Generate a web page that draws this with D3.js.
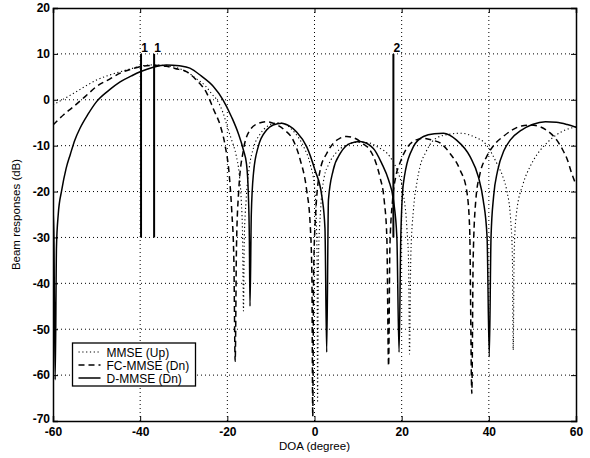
<!DOCTYPE html>
<html>
<head>
<meta charset="utf-8">
<script src="https://cdn.jsdelivr.net/npm/d3@7"></script>
<style>
  body { margin: 0; background: #fff; }
  text { font-family: "Liberation Sans", Arial, sans-serif; font-weight: bold; fill: #000; }
</style>
</head>
<body>
<div id="chart"></div>
<script>
// DOA (degree), beam response (dB) pairs
const mmseUp = [
  [-60, -1.1], [-57.5, 0.2], [-55.3, 1.4], [-52.5, 3], [-50, 4.3], [-47, 5.4], [-44.6, 6.1], [-42, 6.8],
  [-40, 7.3], [-37, 7.6], [-34, 7.4], [-31, 6.8], [-29, 5.9], [-27, 4.5], [-25, 3], [-23.5, 1.2],
  [-22.4, 0], [-21, -2.8], [-19.8, -6.5], [-19, -8.8], [-18, -12], [-17.3, -16], [-16.8, -22], [-16.5, -30],
  [-16.3, -46], [-16.1, -30], [-15.7, -22], [-15, -15], [-14, -10.5], [-12.5, -7.5], [-10.5, -5.6], [-8.5, -5],
  [-6.5, -5.5], [-4.5, -7.2], [-2.5, -10.2], [-1, -14], [0, -19], [0.4, -26], [0.6, -35], [0.7, -66],
  [0.9, -35], [1.4, -24], [2.2, -17], [3.3, -14], [5, -11.5], [7, -10], [9.5, -9.3], [12, -9.3],
  [14.5, -10.3], [17.3, -12.4], [19, -15.5], [20.3, -20], [21.2, -28], [21.6, -36], [21.8, -55.4], [22.1, -34],
  [22.7, -24], [23.5, -18], [24.2, -14.6], [25.5, -11.5], [27.3, -8.8], [30.3, -7.6], [33.5, -7.3], [36.5, -8],
  [39.5, -9.9], [41.8, -13.8], [43.3, -17], [44.1, -19.7], [45, -26], [45.4, -34], [45.6, -54.5], [45.8, -34],
  [46.3, -25], [47.9, -18.2], [49.5, -14.5], [51, -12], [52.5, -10.2], [55, -8], [57.5, -6.6], [60, -5.9]
];
const fcMmseDn = [
  [-60, -5.5], [-57.5, -3.2], [-55.3, -1.5], [-52.5, 0.8], [-50, 2.9], [-47, 4.5], [-44.6, 5.8], [-42, 6.7],
  [-40, 7.2], [-37, 7.5], [-34, 7.3], [-32, 6.8], [-29.3, 6.1], [-27, 4.2], [-24.7, 1.4], [-23.2, -2],
  [-21.5, -6], [-20.5, -10], [-19.6, -16], [-19, -24], [-18.5, -35], [-18.2, -57], [-17.9, -32], [-17.4, -20],
  [-16.3, -10.9], [-14.8, -6.6], [-13, -5.2], [-11, -4.8], [-9, -5.3], [-7, -6.5], [-4.9, -8.8], [-3.3, -13],
  [-1.8, -19.7], [-1, -27], [-0.6, -38], [-0.4, -69], [-0.2, -38], [0.2, -26], [1.3, -15.3], [2.8, -11.7],
  [4.3, -9.5], [5.8, -8.4], [7.4, -8], [9.5, -8.5], [11, -9.5], [12.7, -10.9], [14, -13.5], [15, -16.8],
  [16, -22], [16.6, -30], [17, -58], [17.3, -32], [17.9, -22], [18.7, -16.5], [19.6, -13.8], [21, -10.8],
  [23, -8.9], [25, -8.4], [27, -8.8], [29, -9.5], [31.1, -11.7], [33.4, -15.3], [34.9, -19.7], [35.6, -28],
  [36.1, -64], [36.4, -35], [37, -22], [38, -16], [39.5, -12.4], [41.5, -9.5], [43.3, -8], [45.5, -6.5],
  [47.5, -5.7], [49.5, -5.5], [51.5, -5.8], [53.5, -6.8], [55.6, -8.8], [57, -11], [58, -13], [59, -16], [60, -18.5]
];
const dMmseDn = [
  [-60, -24], [-59.8, -30], [-59.5, -61], [-59.2, -32], [-58.8, -25], [-58, -19.7], [-57, -15], [-56, -11.8],
  [-55, -8.8], [-53.8, -6.2], [-52, -3.2], [-50, -0.4], [-47, 2.2], [-44.6, 3.9], [-42, 5.2], [-40, 6.1],
  [-37, 7.1], [-34, 7.6], [-31, 7.4], [-28.6, 6.9], [-26, 5.2], [-23.2, 2.9], [-21, 0], [-19, -3.8],
  [-17.5, -7.3], [-16.3, -11], [-15.6, -14], [-15.2, -20], [-14.95, -30], [-14.8, -45], [-14.5, -25], [-14, -16],
  [-12.9, -10.2], [-11, -6.6], [-9.5, -5.5], [-7.5, -5.1], [-5.8, -5.7], [-4.1, -7], [-1.8, -10.2], [0.1, -15.3],
  [1.7, -21.1], [2.4, -28], [2.8, -55], [3.2, -21.8], [4.3, -15.3], [5.9, -11.7], [8.2, -9.5], [10.4, -9.1],
  [13.5, -10.6], [15.4, -13.8], [17, -17.5], [18.1, -21.8], [18.9, -30], [19.4, -55], [19.8, -30], [20.4, -18.2],
  [22.7, -10.2], [25, -8], [27.5, -7.4], [29.6, -7.3], [32.6, -8.8], [35.7, -12.4], [37.6, -16.8], [38.7, -21.8],
  [39.6, -30], [40.1, -56], [40.5, -30], [41.1, -21], [42, -15.5], [43.5, -11], [44.9, -8.8], [47.5, -6.6],
  [50, -5.4], [53, -4.8], [55.5, -4.9], [58, -5.4], [60, -6]
];

const seriesNames = ["MMSE (Up)", "FC-MMSE (Dn)", "D-MMSE (Dn)"];
const seriesData = [mmseUp, fcMmseDn, dMmseDn];
const seriesDash = ["1.2,2.6", "6,4", null];
const seriesWidth = [1.1, 1.5, 1.5];

// source markers
const markerDOA = [-39.8, -36.8, 18.1];
const markerLabel = ["1", "1", "2"];
const markerTop = 10, markerBottom = -30;

const xTicks = [-60, -40, -20, 0, 20, 40, 60];
const yTicks = [20, 10, 0, -10, -20, -30, -40, -50, -60, -70];

const W = 590, H = 458;
const margin = { top: 8, right: 14, bottom: 37, left: 53 };
const width = W - margin.left - margin.right,
      height = H - margin.top - margin.bottom;

const svg = d3.select("#chart").append("svg")
  .attr("width", W).attr("height", H);

const g = svg.append("g").attr("transform", `translate(${margin.left},${margin.top})`);

const x = d3.scaleLinear().domain([-60, 60]).range([0, width]);
const y = d3.scaleLinear().domain([-70, 20]).range([height, 0]);

// grid
g.append("g").selectAll("line").data(xTicks.slice(1, -1)).enter().append("line")
  .attr("x1", d => x(d)).attr("x2", d => x(d)).attr("y1", 0).attr("y2", height)
  .attr("stroke", "#000").attr("stroke-width", 1).attr("stroke-dasharray", "1,3");
g.append("g").selectAll("line").data(yTicks.slice(1, -1)).enter().append("line")
  .attr("y1", d => y(d)).attr("y2", d => y(d)).attr("x1", 0).attr("x2", width)
  .attr("stroke", "#000").attr("stroke-width", 1).attr("stroke-dasharray", "1,3");

// axes (ticks inside, box)
g.append("g").attr("transform", `translate(0,${height})`)
  .call(d3.axisBottom(x).tickValues(xTicks).tickSize(-5).tickPadding(6).tickFormat(d => d));
g.append("g")
  .call(d3.axisLeft(y).tickValues(yTicks).tickSize(-5).tickPadding(3).tickFormat(d => d));
g.append("g").call(d3.axisTop(x).tickValues(xTicks).tickSize(-5).tickFormat(""));
g.append("g").attr("transform", `translate(${width},0)`)
  .call(d3.axisRight(y).tickValues(yTicks).tickSize(-5).tickFormat(""));
g.selectAll(".domain").attr("stroke", "#000").attr("stroke-width", 1.5);
g.selectAll(".tick line").attr("stroke", "#000");
g.selectAll(".tick text").style("font-size", "12px").style("font-family", "Liberation Sans, Arial, sans-serif")
  .style("font-weight", "bold");
// lift the lowest y label a little so it clears the x labels
g.selectAll(".tick text").filter(d => d === -70).attr("dy", "0.1em");

// curves
g.append("clipPath").attr("id", "clip").append("rect")
  .attr("width", width).attr("height", height);
const line = d3.line().x(d => x(d[0])).y(d => y(d[1])).curve(d3.curveMonotoneX);
const curves = g.append("g").attr("clip-path", "url(#clip)");
seriesData.forEach((s, i) => {
  curves.append("path").datum(s)
    .attr("fill", "none").attr("stroke", "#000")
    .attr("stroke-width", seriesWidth[i])
    .attr("stroke-dasharray", seriesDash[i])
    .attr("d", line);
});

// markers
g.selectAll(".marker").data(markerDOA).enter().append("line")
  .attr("class", "marker")
  .attr("x1", d => x(d)).attr("x2", d => x(d))
  .attr("y1", y(markerTop)).attr("y2", y(markerBottom))
  .attr("stroke", "#000").attr("stroke-width", 2);
g.selectAll(".mlabel").data(markerDOA).enter().append("text")
  .attr("class", "mlabel")
  .attr("x", d => x(d) + 3.5).attr("y", y(markerTop) - 2)
  .attr("text-anchor", "middle").style("font-size", "12px")
  .text((d, i) => markerLabel[i]);

// legend
const lg = g.append("g").attr("transform", `translate(${72.5 - margin.left},${343 - margin.top})`);
lg.append("rect").attr("width", 123).attr("height", 43)
  .attr("fill", "#fff").attr("stroke", "#000").attr("stroke-width", 1.3);
seriesNames.forEach((name, i) => {
  const yy = 9 + i * 13;
  lg.append("line").attr("x1", 6).attr("x2", 28).attr("y1", yy).attr("y2", yy)
    .attr("stroke", "#000").attr("stroke-width", seriesWidth[i])
    .attr("stroke-dasharray", seriesDash[i]);
  lg.append("text").attr("x", 34).attr("y", yy + 4.5).style("font-size", "12px").style("font-weight", "normal")
    .text(name);
});

// axis labels
svg.append("text")
  .attr("x", margin.left + width / 2).attr("y", 450)
  .attr("text-anchor", "middle").style("font-size", "11.5px").style("font-weight", "normal")
  .text("DOA (degree)");
svg.append("text")
  .attr("transform", `translate(20,${margin.top + height / 2}) rotate(-90)`)
  .attr("text-anchor", "middle").style("font-size", "11.5px").style("font-weight", "normal")
  .text("Beam responses (dB)");
</script>
</body>
</html>
